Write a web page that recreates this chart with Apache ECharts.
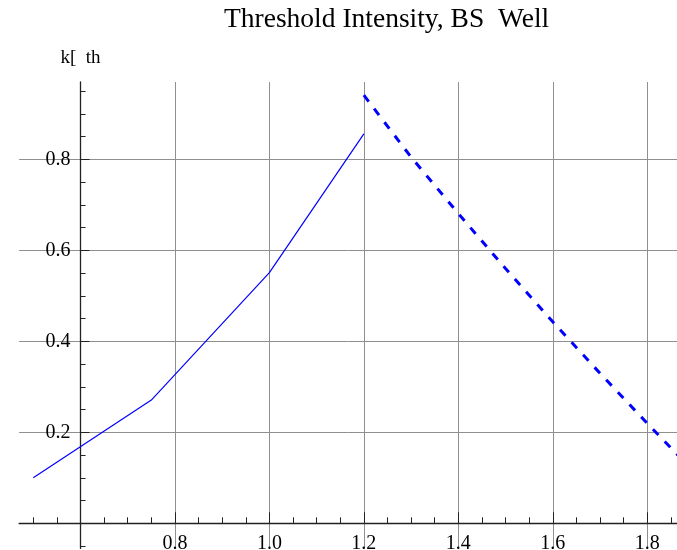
<!DOCTYPE html>
<html><head><meta charset="utf-8">
<script src="https://cdn.jsdelivr.net/npm/echarts@6/dist/echarts.min.js"></script>
<style>html,body{margin:0;padding:0;background:#fff}#c{width:677px;height:550px}</style>
</head><body><div id="c"></div>
<script>
const titleText = 'Threshold Intensity, BS  Well';
const yAxisName = 'k[  th';
const solidX = [0.5, 0.75, 1.0, 1.2];
const solidY = [0.100, 0.271, 0.551, 0.856];
const dashX = [1.2, 1.3, 1.4, 1.5, 1.6, 1.7, 1.8, 1.865];
const dashY = [0.941, 0.805, 0.681, 0.560, 0.443, 0.330, 0.220, 0.150];
const xTickLabels = [0.8, 1.0, 1.2, 1.4, 1.6, 1.8];
const xMinorTicks = [0.5, 0.55, 0.65, 0.7, 0.75, 0.85, 0.9, 0.95, 1.05, 1.1, 1.15, 1.25, 1.3, 1.35,
                     1.45, 1.5, 1.55, 1.65, 1.7, 1.75, 1.85];
const yTickLabels = [0.2, 0.4, 0.6, 0.8];
const yMinorTicks = [-0.05, 0.05, 0.1, 0.15, 0.25, 0.3, 0.35, 0.45, 0.5, 0.55, 0.65, 0.7, 0.75, 0.85, 0.9, 0.95];

const FONT = 'Liberation Serif, Times New Roman, serif';
const X_MIN = 0.47, X_MAX = 1.865, Y_MIN = -0.055, Y_MAX = 0.97;
const chart = echarts.init(document.getElementById('c'), null, {renderer: 'canvas'});
const zip = (xs, ys) => xs.map((x, i) => [x, ys[i]]);
const AX = {color: '#222', width: 1.3};
const TK = {color: '#222', width: 1};

chart.setOption({
  animation: false,
  backgroundColor: '#fff',
  title: {
    text: titleText, left: 224, top: 6, padding: 0,
    textStyle: {fontFamily: FONT, fontSize: 27.5, fontWeight: 'normal', color: '#000'}
  },
  grid: {left: 19.1, top: 82, width: 658.8, height: 466.4, containLabel: false, outerBoundsMode: 'none'},
  xAxis: [{
    type: 'value', min: X_MIN, max: X_MAX, interval: 0.01, position: 'bottom', offset: -25.1,
    axisLine: {show: true, onZero: false, lineStyle: AX},
    axisTick: {show: true, inside: true, length: 11, customValues: xTickLabels, lineStyle: TK},
    axisLabel: {show: true, customValues: xTickLabels, margin: 10, formatter: v => v.toFixed(1),
      fontFamily: FONT, fontSize: 20, color: '#000'},
    splitLine: {show: true, lineStyle: {color: '#8f8f8f', width: 1}}
  }, {
    type: 'value', min: X_MIN, max: X_MAX, interval: 0.01, position: 'bottom', offset: -25.1,
    axisLine: {show: false, onZero: false},
    axisTick: {show: true, inside: true, length: 6, customValues: xMinorTicks, lineStyle: TK},
    axisLabel: {show: false},
    splitLine: {show: false}
  }],
  yAxis: [{
    type: 'value', min: Y_MIN, max: Y_MAX, interval: 0.005, position: 'left', offset: -61.4,
    name: yAxisName, nameLocation: 'end', nameGap: 14,
    nameTextStyle: {fontFamily: FONT, fontSize: 19, color: '#000', align: 'center'},
    axisLine: {show: true, onZero: false, lineStyle: AX},
    axisTick: {show: true, inside: true, length: 9, customValues: yTickLabels, lineStyle: TK},
    axisLabel: {show: true, customValues: yTickLabels, margin: 10, formatter: v => v.toFixed(1),
      fontFamily: FONT, fontSize: 20, color: '#000'},
    splitLine: {show: true, lineStyle: {color: '#8f8f8f', width: 1}}
  }, {
    type: 'value', min: Y_MIN, max: Y_MAX, interval: 0.005, position: 'left', offset: -61.4,
    axisLine: {show: false, onZero: false},
    axisTick: {show: true, inside: true, length: 5, customValues: yMinorTicks, lineStyle: TK},
    axisLabel: {show: false},
    splitLine: {show: false}
  }],
  series: [
    {type: 'line', xAxisIndex: 0, yAxisIndex: 0, data: zip(solidX, solidY), showSymbol: false, clip: true,
      lineStyle: {color: '#0000ff', width: 1.2}},
    {type: 'line', xAxisIndex: 0, yAxisIndex: 0, data: zip(dashX, dashY), showSymbol: false, clip: true,
      lineStyle: {color: '#0000ff', width: 3, type: [8, 9], cap: 'butt'}}
  ]
});
</script></body></html>
